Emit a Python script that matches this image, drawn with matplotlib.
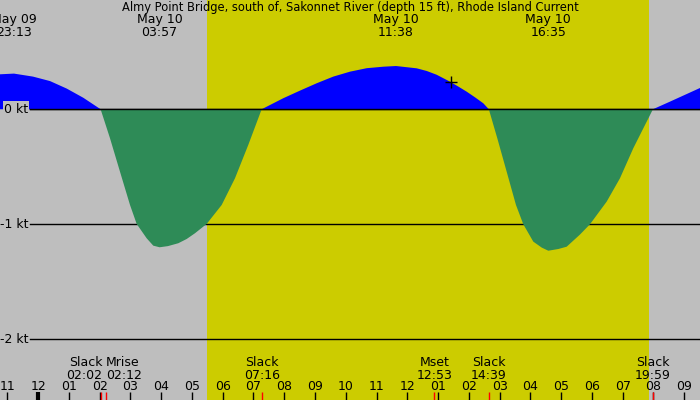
import numpy as np
import matplotlib
matplotlib.use('Agg')
import matplotlib.pyplot as plt
import matplotlib.transforms as mtransforms

## DATA (hours since May 10 00:00, current in knots)

title = 'Almy Point Bridge, south of, Sakonnet River (depth 15 ft), Rhode Island Current'

hours = [-1.237, -0.783, -0.165, 0.389, 0.93, 1.47, 2.033,
         2.338, 2.663, 2.988, 3.205, 3.53, 3.745, 3.95, 4.22, 4.557, 4.83, 5.10,
         5.48, 5.968, 6.40, 6.832, 7.267,
         7.97, 8.512, 9.055, 9.595, 10.14, 10.68, 11.22, 11.633, 12.305, 12.63,
         12.955, 13.387, 13.66, 13.93, 14.20, 14.47, 14.65,
         14.925, 15.23, 15.532, 15.77, 16.095, 16.37, 16.583, 16.91, 17.18,
         17.61, 17.937, 18.48, 18.912, 19.345, 19.983,
         20.535, 21.513]
speed = [0.304, 0.31, 0.284, 0.245, 0.18, 0.10, 0.0,
         -0.252, -0.543, -0.832, -0.997, -1.122, -1.186, -1.20, -1.19, -1.165, -1.128, -1.078,
         -0.997, -0.832, -0.60, -0.31, 0.0,
         0.096, 0.162, 0.226, 0.284, 0.327, 0.357, 0.37, 0.376, 0.356, 0.333,
         0.30, 0.24, 0.197, 0.153, 0.104, 0.052, 0.0,
         -0.252, -0.543, -0.832, -1.0, -1.151, -1.203, -1.23, -1.215, -1.195,
         -1.09, -1.0, -0.803, -0.60, -0.339, 0.0,
         0.066, 0.185]

# max flood / ebb labels at top
peak_hours = [-0.783, 3.95, 11.633, 16.583]
peak_labels = ['May 09\n23:13', 'May 10\n03:57', 'May 10\n11:38', 'May 10\n16:35']

# slack / moon events at bottom
event_hours = [2.033, 2.2, 7.267, 12.883, 14.65, 19.983]
event_labels = ['Slack\n02:02', 'Mrise\n02:12', 'Slack\n07:16', 'Mset\n12:53', 'Slack\n14:39', 'Slack\n19:59']
event_align = ['right', 'left', 'center', 'center', 'center', 'center']

sunrise = 5.49
sunset = 19.87

now_hour = 13.43
now_speed = 0.24

levels = [0, -1, -2]
level_labels = ['0 kt', '-1 kt', '-2 kt']

tick_hours = list(range(-1, 22))

## COLOURS
night = '#bebebe'
day = '#cccc00'
flood = '#0000ff'
ebb = '#2e8b57'

x0, x1 = -1.237, 21.513
px = (x1 - x0) / 700.0   # hours per pixel

fig = plt.figure(figsize=(7, 4), dpi=100)
fig.patch.set_facecolor(night)
ax = fig.add_axes([0, 0, 1, 1])
ax.set_facecolor(night)
ax.set_xlim(x0, x1)
ax.set_ylim(-2.528, 0.950)
ax.axis('off')

# daylight
ax.axvspan(sunrise, sunset, color=day, zorder=0, lw=0)

# level lines (start right of the labels)
for lv in levels:
    ax.plot([x0 + 30 * px, x1], [lv, lv], color='black', lw=1, zorder=1)

t = np.array(hours)
v = np.array(speed)
ax.fill_between(t, 0, v, where=v >= 0, interpolate=True, color=flood, lw=0, zorder=2)
ax.fill_between(t, 0, v, where=v <= 0, interpolate=True, color=ebb, lw=0, zorder=2)
ax.plot([x0 + 30 * px, x1], [0, 0], color='black', lw=1, zorder=3)

# level labels
for lv, lab in zip(levels, level_labels):
    ax.text(x0 + 28 * px, lv, lab, ha='right', va='center', fontsize=9, zorder=4,
            bbox=dict(facecolor=night, edgecolor='none', pad=1.0))

# current time marker
ax.plot([now_hour], [now_speed], marker='+', color='black', ms=9, mew=1, zorder=5)

trans = mtransforms.blended_transform_factory(ax.transData, ax.transAxes)

# title and peak labels
ax.text(0.5, 0.98, title, transform=ax.transAxes, ha='center', va='center', fontsize=8.3)
for ph, lab in zip(peak_hours, peak_labels):
    ax.text(ph, 0.935, lab, transform=trans, ha='center', va='center', fontsize=9,
            linespacing=1.0)

# hour ticks
for h in tick_hours:
    hh = (h - 1) % 12 + 1
    ax.text(h, 0.0325, '%02d' % hh, transform=trans, ha='center', va='center', fontsize=9)
    lw = 3 if h % 24 == 0 else 1
    ax.plot([h, h], [0, 0.02], transform=trans, color='black', lw=lw, solid_capstyle='butt')

# event labels and red ticks
for eh, lab, al in zip(event_hours, event_labels, event_align):
    x = eh
    if al == 'right':
        x = eh + 2 * px
    ax.text(x, 0.0775, lab, transform=trans, ha=al, va='center', fontsize=9,
            linespacing=1.0)
    ax.plot([eh, eh], [0, 0.02], transform=trans, color='red', lw=1, solid_capstyle='butt')

fig.savefig('out.png', dpi=100, facecolor=night)
